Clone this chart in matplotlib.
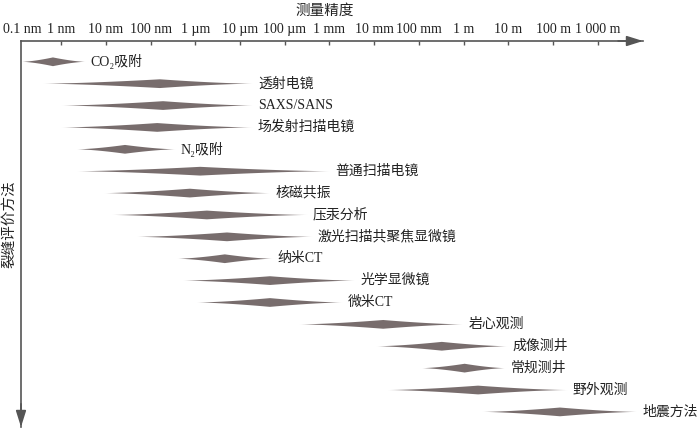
import matplotlib.pyplot as plt
import numpy as np

plt.rcParams['font.family'] = ['Liberation Serif', 'DejaVu Serif', 'Noto Sans CJK SC']

methods = ['CO₂吸附', '透射电镜', 'SAXS/SANS', '场发射扫描电镜', 'N₂吸附', '普通扫描电镜',
           '核磁共振', '压汞分析', '激光扫描共聚焦显微镜', '纳米CT', '光学显微镜', '微米CT',
           '岩心观测', '成像测井', '常规测井', '野外观测', '地震方法']
# log10 of measured size in metres: lower limit, most typical, upper limit
lo = [-9.87, -9.40, -8.98, -8.98, -8.64, -8.64, -8.02, -7.84, -7.30,
      -6.39, -6.27, -5.96, -3.66, -1.94, -0.93, -1.69, 0.43]
peak = [-9.18, -6.79, -6.72, -6.85, -7.57, -5.89, -6.12, -5.74, -5.29,
        -5.34, -4.33, -4.33, -1.80, -0.49, 0.02, 0.32, 2.15]
hi = [-8.46, -4.71, -4.71, -4.73, -6.45, -2.99, -4.33, -3.50, -3.39,
      -4.28, -2.43, -2.72, -0.02, 0.97, 0.92, 2.31, 3.87]

tick_pos = list(range(-9, 4))
tick_labels = ['1 nm', '10 nm', '100 nm', '1 µm', '10 µm', '100 µm', '1 mm',
               '10 mm', '100 mm', '1 m', '10 m', '100 m', '1 000 m']

axis_col = '#555555'
fill_col = '#786d6d'
text_col = '#222222'

fig = plt.figure(figsize=(7, 4.29), dpi=100)
ax = fig.add_axes([21/700, 2/429, 622/700, 386/429])
ax.set_xlim(-9.894, 4.006)
ax.set_ylim(16.69, -0.95)

# concave diamond for each method
h = 0.2
t = np.linspace(0, 1, 80)
for i in range(len(methods)):
    xl = lo[i] + (peak[i] - lo[i]) * t
    wl = h * t ** 1.5
    xr = peak[i] + (hi[i] - peak[i]) * t
    wr = h * (1 - t) ** 1.5
    xs = np.concatenate([xl, xr, xr[::-1], xl[::-1]])
    ys = np.concatenate([i - wl, i - wr, i + wr[::-1], i + wl[::-1]])
    ax.fill(xs, ys, color=fill_col, lw=0)
    ax.annotate(methods[i], (hi[i], i), xytext=(4, 0), textcoords='offset points',
                va='center', ha='left', fontsize=10, color=text_col)

for s in ['right', 'bottom']:
    ax.spines[s].set_visible(False)
for s in ['top', 'left']:
    ax.spines[s].set_color(axis_col)
    ax.spines[s].set_linewidth(1.2)

ax.set_yticks([])
ax.set_xticks(tick_pos)
ax.set_xticklabels(tick_labels)
ax.tick_params(axis='x', top=True, labeltop=True, bottom=False, labelbottom=False,
               direction='in', length=3, width=1, color=axis_col, pad=3.5,
               labelsize=10, labelcolor=text_col)
ax.annotate('0.1 nm', xy=(0.002, 1), xycoords='axes fraction', xytext=(0, 3.5),
            textcoords='offset points', ha='center', va='bottom',
            fontsize=10, color=text_col, annotation_clip=False)

ax.xaxis.set_label_position('top')
ax.set_xlabel('测量精度', fontsize=10.5, color=text_col)
ax.xaxis.set_label_coords((325 - 21) / 622, (427 - 15) / 386)
ax.set_ylabel('裂缝评价方法', fontsize=10.5, color=text_col)
ax.yaxis.set_label_coords(-5 / 622, (427 - 224) / 386)

arrow = dict(arrowstyle='-|>,head_length=0.7,head_width=0.22', color=axis_col,
             lw=1.2, shrinkA=0, shrinkB=0, mutation_scale=14)
ax.annotate('', xy=(1, 1), xytext=(0.96, 1), xycoords='axes fraction',
            arrowprops=arrow, annotation_clip=False)
ax.annotate('', xy=(0, 0), xytext=(0, 0.06), xycoords='axes fraction',
            arrowprops=arrow, annotation_clip=False)

fig.savefig('out.png', dpi=100)
